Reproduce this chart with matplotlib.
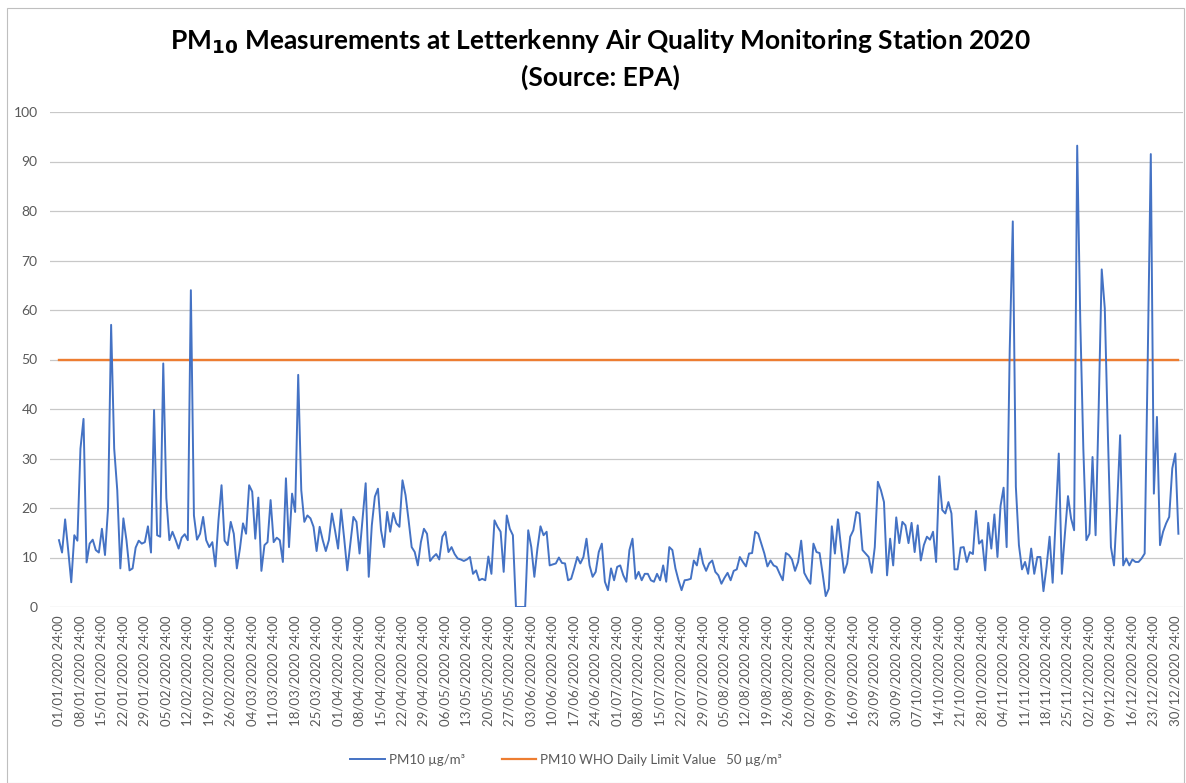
import numpy as np
import pandas as pd
import matplotlib
matplotlib.use("Agg")
import matplotlib.pyplot as plt
from matplotlib.lines import Line2D
from matplotlib.patches import Rectangle

# daily PM10 values for 2020 (01/01 .. 31/12)
pm10 = [
    13.5, 11, 17.7, 11.5, 5, 14.5, 13.4, 32, 38, 9,
    12.8, 13.6, 11.5, 11, 15.8, 10.5, 20, 57, 32, 23.6,
    7.8, 17.9, 13.5, 7.4, 7.8, 12, 13.4, 12.8, 13.1, 16.3,
    11, 39.8, 14.5, 14.2, 49.2, 22, 13.5, 15.2, 13.6, 11.8,
    14, 14.7, 13.5, 64, 18.5, 13.6, 14.8, 18.2, 13.5, 12.1,
    13.1, 8.2, 17.5, 24.6, 13.4, 12.5, 17.2, 14.8, 7.8, 11.8,
    16.9, 14.8, 24.6, 23.3, 13.8, 22.1, 7.3, 12.5, 13.1, 21.6,
    13.1, 14, 13.5, 9.1, 26, 12.1, 22.9, 19.2, 46.9, 23.6,
    17.2, 18.5, 17.9, 16.2, 11.3, 16.2, 13.5, 11.3, 13.5, 18.9,
    15.5, 11.8, 19.7, 13.8, 7.4, 12.8, 18.2, 17.2, 10.8, 17.9,
    25, 6.1, 16.5, 22.3, 23.9, 15.5, 12.1, 19.2, 15.2, 19,
    16.9, 16.2, 25.6, 22.6, 17.5, 12.1, 11.1, 8.4, 13.1, 15.8,
    14.8, 9.3, 10.1, 10.7, 9.6, 14.2, 15.2, 11.1, 12.1, 10.7,
    9.8, 9.6, 9.3, 9.6, 10.1, 6.7, 7.4, 5.4, 5.7, 5.4,
    10.2, 6.7, 17.5, 16.2, 15.2, 7.1, 18.5, 15.8, 14.5, 0,
    0, 0, 0, 15.5, 12.1, 6.1, 11.8, 16.3, 14.5, 15.2,
    8.4, 8.6, 8.8, 10, 8.9, 8.8, 5.4, 5.7, 7.8, 10.1,
    8.8, 10.1, 13.8, 8.4, 6.1, 7.1, 11.1, 12.8, 5.1, 3.4,
    7.8, 5.4, 8.1, 8.4, 6.4, 5.1, 11.5, 13.8, 5.7, 7.1,
    5.4, 6.7, 6.7, 5.4, 5.1, 6.7, 5.4, 8.4, 5.1, 12.1,
    11.5, 7.8, 5.4, 3.4, 5.4, 5.5, 5.7, 9.4, 8.4, 11.8,
    8.8, 7.3, 8.8, 9.4, 7.1, 6.4, 4.7, 5.9, 6.9, 5.4,
    7.3, 7.6, 10.1, 9.1, 8.2, 10.8, 10.9, 15.2, 14.8, 12.8,
    10.8, 8.2, 9.4, 8.4, 8.1, 6.7, 5.4, 10.9, 10.5, 9.6,
    7.3, 9.1, 13.4, 6.9, 5.7, 4.7, 12.8, 11.1, 10.9, 6.7,
    2.2, 3.7, 16.3, 10.8, 17.7, 12.1, 6.9, 8.8, 14.2, 15.5,
    19.2, 18.9, 11.5, 10.8, 10.1, 6.9, 12.1, 25.3, 23.6, 21.2,
    6.4, 13.8, 8.4, 18.1, 12.9, 17.2, 16.5, 12.9, 17, 11.1,
    16.5, 9.4, 12.5, 14.2, 13.6, 15.2, 9.1, 26.4, 19.6, 18.9,
    21.2, 18.9, 7.6, 7.6, 12, 12.1, 9.1, 11.1, 10.7, 19.4,
    12.8, 13.5, 7.4, 17, 11.8, 18.7, 10.1, 20.4, 24.1, 12.1,
    52, 77.9, 24.3, 12.5, 7.6, 9.1, 6.7, 11.8, 6.7, 10.1,
    10.1, 3.2, 8.1, 14.2, 4.9, 18, 31, 6.7, 14.8, 22.4,
    17.9, 15.5, 93.2, 58, 32, 13.5, 14.8, 30.3, 14.5, 40,
    68.2, 60.3, 35, 12.1, 8.4, 20, 34.7, 8.4, 9.8, 8.4,
    9.6, 9.1, 9.1, 9.8, 10.8, 50, 91.5, 22.9, 38.4, 12.5,
    15.2, 16.9, 18.2, 28, 31, 14.8,
]
who_limit = [50] * len(pm10)
dates = pd.date_range("2020-01-01", periods=len(pm10), freq="D")
tick_labels = [d.strftime("%d/%m/%Y") + " 24:00" for d in dates[::7]]
y_ticks = list(range(0, 101, 10))

BLUE = "#4472C4"
ORANGE = "#ED7D31"
GREY_TXT = "#595959"
FONT = "Lato"

W, H = 1186, 783
fig = plt.figure(figsize=(W / 100, H / 100), dpi=100)
fig.patches.append(Rectangle((7 / W, 0), 1177 / W, 1 - 8 / H, transform=fig.transFigure,
                             fill=False, edgecolor="#bfbfbf", lw=0.8))

ax = fig.add_axes([50 / W, 1 - 607 / H, (1183 - 50) / W, (607 - 112) / H])
x = np.arange(len(pm10))
ax.plot(x, pm10, color=BLUE, lw=1.4, zorder=3)
ax.plot(x, who_limit, color=ORANGE, lw=1.7, zorder=2)

ax.set_xlim(-2.93, 366.5)
ax.set_ylim(0, 100)
ax.set_yticks(y_ticks)
ax.set_yticklabels([str(v) for v in y_ticks], fontsize=10, color=GREY_TXT, family=FONT)
ax.set_xticks(x[::7])
ax.set_xticklabels(tick_labels, rotation=90, fontsize=9.5, color=GREY_TXT, family=FONT)
ax.tick_params(length=0)
ax.tick_params(axis="y", pad=9)
ax.tick_params(axis="x", pad=6)
ax.grid(axis="y", color="#c8c8c8", lw=0.9)
ax.set_axisbelow(True)
for s in ax.spines.values():
    s.set_visible(False)

fig.text(600 / W, 1 - 42 / H,
         r"PM$_{\mathbf{10}}$ Measurements at Letterkenny Air Quality Monitoring Station 2020",
         ha="center", va="center", fontsize=19, fontweight="bold", family=FONT)
fig.text(600 / W, 1 - 77 / H, "(Source: EPA)",
         ha="center", va="center", fontsize=19, fontweight="bold", family=FONT)

handles = [Line2D([], [], color=BLUE, lw=1.4),
           Line2D([], [], color=ORANGE, lw=1.6)]
fig.legend(handles, ["PM10 µg/m³", "PM10 WHO Daily Limit Value   50 µg/m³"],
           loc="center", bbox_to_anchor=(566 / W, 1 - 760 / H), ncol=2, frameon=False,
           handlelength=2.6, columnspacing=2.8, handletextpad=0.3,
           prop={"family": FONT, "size": 9.5})
for t in fig.legends[0].get_texts():
    t.set_color(GREY_TXT)

fig.savefig("out.png", dpi=100)
